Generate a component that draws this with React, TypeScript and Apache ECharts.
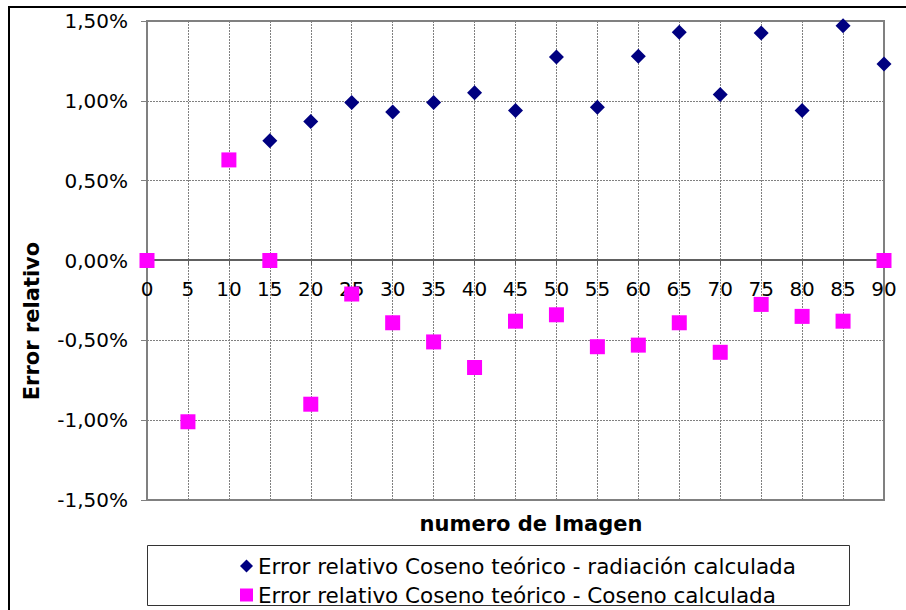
import React, { useEffect, useRef } from "react";
import * as echarts from "echarts";

const imagenes = [0, 5, 10, 15, 20, 25, 30, 35, 40, 45, 50, 55, 60, 65, 70, 75, 80, 85, 90];
// percent values; null where no point
const errRadiacion: (number | null)[] = [null, null, null, 0.75, 0.87, 0.99, 0.93, 0.99, 1.05, 0.94, 1.275, 0.96, 1.28, 1.43, 1.04, 1.425, 0.94, 1.47, 1.23];
const errCoseno: number[] = [0, -1.01, 0.63, 0, -0.9, -0.21, -0.39, -0.51, -0.67, -0.38, -0.34, -0.54, -0.53, -0.39, -0.575, -0.275, -0.35, -0.38, 0];
const serieNames = [
  "Error relativo Coseno teórico - radiación calculada",
  "Error relativo Coseno teórico - Coseno calculada",
];
const xTitle = "numero de Imagen";
const yTitle = "Error relativo";

const FONT = "DejaVu Sans";

export default function App() {
  const ref = useRef<HTMLDivElement>(null);
  useEffect(() => {
    if (!ref.current) return;
    const chart = echarts.init(ref.current, undefined, { renderer: "svg" });
    const d1 = imagenes.map((x, i) => (errRadiacion[i] === null ? null : [x, errRadiacion[i]])).filter(Boolean);
    const d2 = imagenes.map((x, i) => [x, errCoseno[i]]);
    chart.setOption({
      animation: false,
      backgroundColor: "#fff",
      textStyle: { fontFamily: FONT },
      grid: {
        left: 147,
        right: 22,
        top: 21,
        bottom: 110,
        show: true,
        borderColor: "#808080",
        borderWidth: 2,
      },
      xAxis: {
        type: "value",
        min: 0,
        max: 90,
        interval: 5,
        position: "bottom",
        offset: -240,
        axisLine: { onZero: false, lineStyle: { color: "#606060", width: 2 } },
        axisTick: { show: true, length: 5, lineStyle: { color: "#606060" } },
        axisLabel: { color: "#000", fontSize: 20, fontFamily: FONT, margin: 19 },
        splitLine: { show: true, lineStyle: { color: "#808080", type: [2, 1], width: 1 } },
      },
      yAxis: {
        type: "value",
        min: -1.5,
        max: 1.5,
        interval: 0.5,
        axisLine: { show: true, onZero: false, lineStyle: { color: "#808080", width: 2 } },
        axisTick: { show: true, length: 6, lineStyle: { color: "#808080" } },
        axisLabel: {
          color: "#000",
          fontSize: 20,
          fontFamily: FONT,
          margin: 19,
          formatter: (v: number) => (Math.abs(v) < 1e-9 ? 0 : v).toFixed(2).replace(".", ",") + "%",
        },
        splitLine: { show: true, lineStyle: { color: "#808080", type: [2, 1], width: 1 } },
      },
      legend: {
        orient: "vertical",
        left: 240,
        top: 555,
        padding: 0,
        itemGap: 7,
        itemWidth: 13,
        itemHeight: 13,
        textStyle: { fontSize: 21.5, fontFamily: FONT, color: "#000" },
        data: [
          { name: serieNames[0], icon: "diamond" },
          { name: serieNames[1], icon: "rect" },
        ],
      },
      series: [
        {
          name: serieNames[0],
          type: "scatter",
          symbol: "diamond",
          symbolSize: 15,
          itemStyle: { color: "#000080", opacity: 1 },
          data: d1,
          z: 5,
        },
        {
          name: serieNames[1],
          type: "scatter",
          symbol: "rect",
          symbolSize: 15,
          itemStyle: { color: "#FF00FF", opacity: 1 },
          data: d2,
          z: 5,
        },
      ],
      graphic: [
        {
          type: "rect",
          shape: { x: 9, y: 7, width: 1000, height: 1000 },
          style: { fill: "none", stroke: "#000", lineWidth: 2 },
          silent: true,
        },
        {
          type: "rect",
          shape: { x: 147.5, y: 545.5, width: 702, height: 60 },
          style: { fill: "none", stroke: "#333", lineWidth: 1 },
          silent: true,
        },
        {
          type: "text",
          x: 531,
          y: 524,
          style: {
            text: xTitle,
            font: `bold 21px ${FONT}`,
            fill: "#000",
            align: "center",
            verticalAlign: "middle",
          },
        },
        {
          type: "text",
          x: 32,
          y: 321,
          rotation: Math.PI / 2,
          style: {
            text: yTitle,
            font: `bold 21px ${FONT}`,
            fill: "#000",
            align: "center",
            verticalAlign: "middle",
          },
        },
      ],
    });
    return () => chart.dispose();
  }, []);
  return <div ref={ref} style={{ position: "fixed", left: 0, top: 0, width: 906, height: 610 }} />;
}
